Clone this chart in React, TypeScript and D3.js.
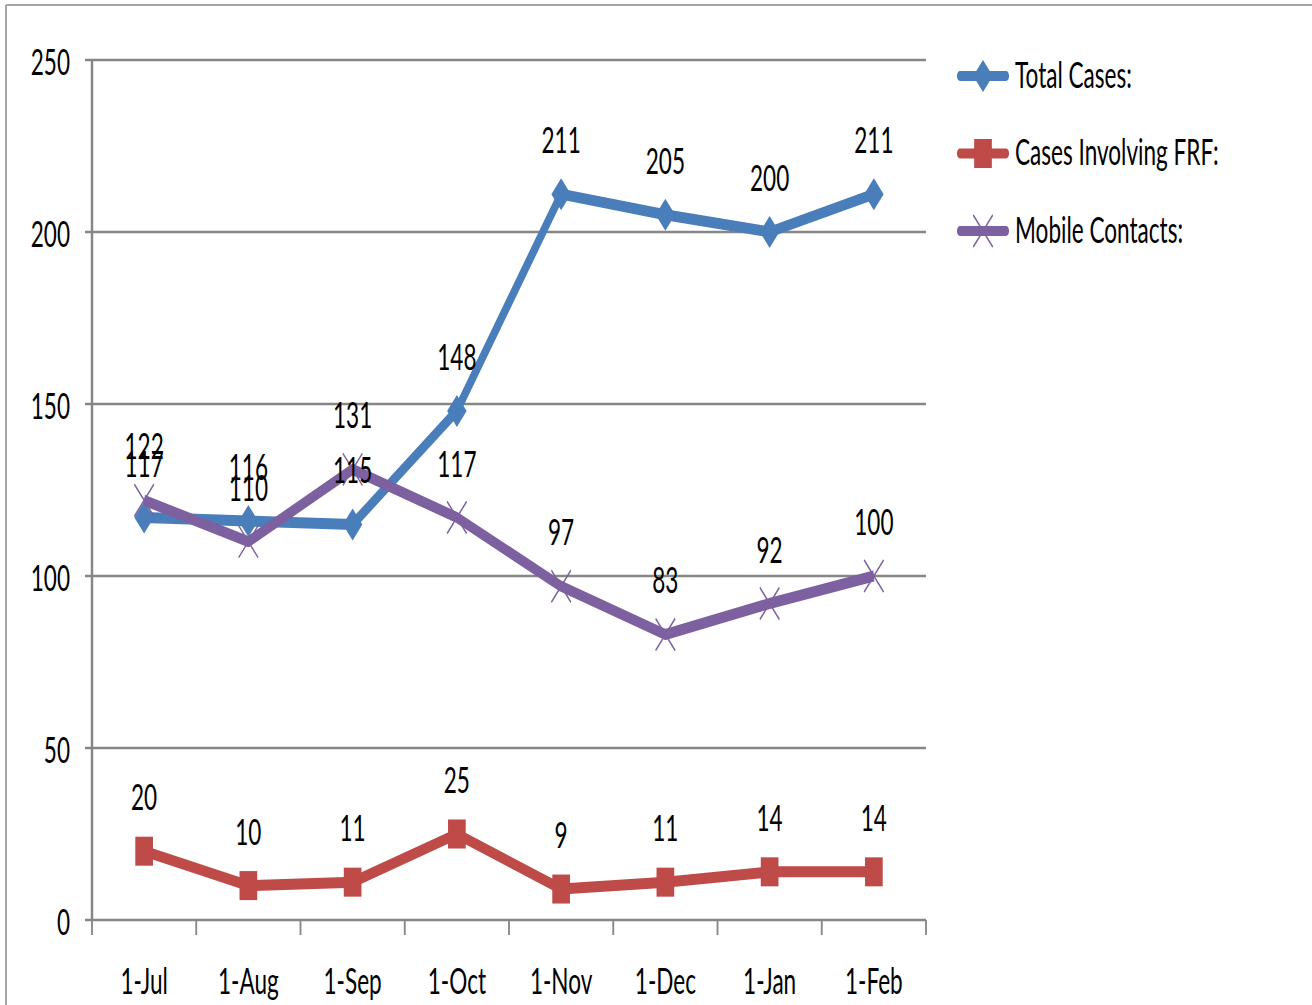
import React from "react";
import * as d3 from "d3";

// Monthly case counts
const months = ["1-Jul", "1-Aug", "1-Sep", "1-Oct", "1-Nov", "1-Dec", "1-Jan", "1-Feb"];
const totalCases = [117, 116, 115, 148, 211, 205, 200, 211];
const frfCases = [20, 10, 11, 25, 9, 11, 14, 14];
const mobileContacts = [122, 110, 131, 117, 97, 83, 92, 100];
const yTicks = [0, 50, 100, 150, 200, 250];

const seriesNames = ["Total Cases:", "Cases Involving FRF:", "Mobile Contacts:"];

const W = 1312;
const H = 1005;
// horizontal condensing applied to the whole drawing
const SX = 0.61;
const px = (x: number) => x / SX;

const BLUE = "#4A7EBB";
const RED = "#BE4B48";
const PURPLE = "#7D60A0";
const GRID = "#868686";
const FONT = "Lato, 'Liberation Sans', sans-serif";
const FS = 37;

type Marker = "diamond" | "square" | "x";

function MarkerShape({ kind, x, y, color }: { kind: Marker; x: number; y: number; color: string }) {
  if (kind === "diamond") {
    const r = 16;
    return <path d={`M${x},${y - r}L${x + r},${y}L${x},${y + r}L${x - r},${y}Z`} fill={color} />;
  }
  if (kind === "square") {
    const r = 14.5;
    return <rect x={x - r} y={y - r} width={2 * r} height={2 * r} fill={color} />;
  }
  const r = 16;
  return (
    <path
      d={`M${x - r},${y - r}L${x + r},${y + r}M${x - r},${y + r}L${x + r},${y - r}`}
      stroke={color}
      strokeWidth={2}
      fill="none"
    />
  );
}

export default function App() {
  const x = d3.scaleBand<string>().domain(months).range([92, 926]);
  const y = d3.scaleLinear().domain([0, 250]).range([920, 60]);
  const cx = (i: number) => (x(months[i]) as number) + x.bandwidth() / 2;

  const series = [
    { name: seriesNames[0], values: totalCases, color: BLUE, marker: "diamond" as Marker },
    { name: seriesNames[1], values: frfCases, color: RED, marker: "square" as Marker },
    { name: seriesNames[2], values: mobileContacts, color: PURPLE, marker: "x" as Marker },
  ];

  const line = d3
    .line<number>()
    .x((_, i) => px(cx(i)))
    .y((v) => y(v));

  const boundaries = months.map((m) => x(m) as number).concat([926]);

  return (
    <svg
      width={W}
      height={H}
      style={{ position: "absolute", left: 0, top: 0, background: "#fff" }}
      fontFamily={FONT}
    >
      {/* outer frame */}
      <line x1={6} y1={5} x2={W} y2={5} stroke="#A6A6A6" strokeWidth={2} />
      <line x1={6} y1={5} x2={6} y2={H} stroke="#A6A6A6" strokeWidth={2} />

      <g transform={`scale(${SX},1)`}>
        {/* gridlines and y ticks */}
        {yTicks.map((t) => (
          <g key={t}>
            <line x1={px(85)} x2={px(926)} y1={y(t)} y2={y(t)} stroke={GRID} strokeWidth={2.6} />
            <text x={px(70)} y={y(t) + 15} textAnchor="end" fontSize={FS} fill="#000">
              {t}
            </text>
          </g>
        ))}
        {/* y axis */}
        <line x1={px(92)} x2={px(92)} y1={y(250)} y2={y(0)} stroke={GRID} strokeWidth={4} />
        {/* x ticks */}
        {boundaries.map((b, i) => (
          <line key={i} x1={px(b)} x2={px(b)} y1={y(0)} y2={y(0) + 15} stroke={GRID} strokeWidth={3} />
        ))}
        {months.map((m, i) => (
          <text key={m} x={px(cx(i))} y={994} textAnchor="middle" fontSize={FS} fill="#000">
            {m}
          </text>
        ))}

        {/* series lines and markers */}
        {series.map((s) => (
          <g key={s.name}>
            <path d={line(s.values) as string} fill="none" stroke={s.color} strokeWidth={11} strokeLinejoin="round" />
            {s.values.map((v, i) => (
              <MarkerShape key={i} kind={s.marker} x={px(cx(i))} y={y(v)} color={s.color} />
            ))}
          </g>
        ))}

        {/* data labels */}
        {series.map((s) =>
          s.values.map((v, i) => (
            <text
              key={s.name + i}
              x={px(cx(i))}
              y={y(v) - 41}
              textAnchor="middle"
              fontSize={FS}
              fill="#000"
            >
              {v}
            </text>
          ))
        )}

        {/* legend */}
        {series.map((s, i) => {
          const ly = 76 + i * 77.5;
          return (
            <g key={s.name}>
              <line
                x1={px(960)}
                x2={px(1006)}
                y1={ly}
                y2={ly}
                stroke={s.color}
                strokeWidth={10}
                strokeLinecap="round"
              />
              <MarkerShape kind={s.marker} x={px(983)} y={ly} color={s.color} />
              <text x={px(1015)} y={ly + 12} fontSize={FS} fill="#000">
                {s.name}
              </text>
            </g>
          );
        })}
      </g>
    </svg>
  );
}
